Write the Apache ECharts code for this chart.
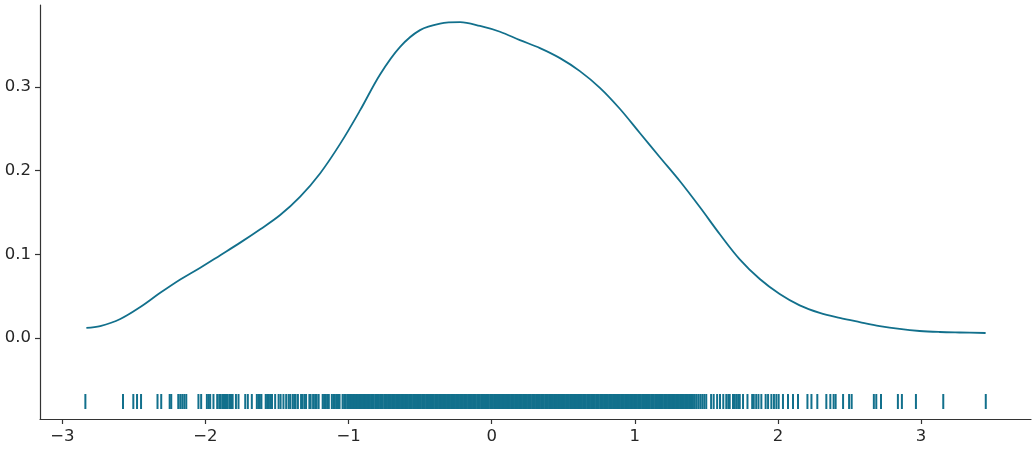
<!DOCTYPE html>
<html>
<head>
<meta charset="utf-8">
<script src="https://cdn.jsdelivr.net/npm/echarts@6/dist/echarts.min.js"></script>
<style>html,body{margin:0;padding:0;background:#fff}#c{width:1035px;height:450px}</style>
</head>
<body>
<div id="c"></div>
<script>
// KDE curve samples
var kdeX = [-2.832,-2.735,-2.595,-2.455,-2.316,-2.176,-2.036,-1.896,-1.757,-1.617,-1.478,-1.338,-1.198,-1.059,-0.920,-0.780,-0.640,-0.501,-0.361,-0.221,-0.082,0.058,0.197,0.337,0.477,0.616,0.756,0.895,1.035,1.175,1.314,1.454,1.594,1.733,1.873,2.012,2.152,2.292,2.431,2.571,2.711,2.850,2.990,3.130,3.269,3.451];
var kdeY = [0.012,0.0143,0.0227,0.037,0.054,0.070,0.084,0.099,0.114,0.130,0.147,0.169,0.197,0.232,0.272,0.315,0.348,0.368,0.3758,0.3775,0.373,0.366,0.356,0.3465,0.3345,0.319,0.299,0.274,0.245,0.216,0.1876,0.1565,0.124,0.094,0.0705,0.0526,0.039,0.030,0.024,0.019,0.0143,0.0108,0.0084,0.0072,0.0066,0.006];

// Rug observations
var rugX = [-2.839,-2.576,-2.504,-2.478,-2.450,-2.335,-2.309,-2.250,-2.239,-2.190,-2.176,-2.162,-2.148,-2.134,-2.049,-2.030,-1.990,
-1.977,-1.967,-1.944,-1.918,-1.904,-1.897,-1.883,-1.876,-1.869,-1.862,-1.855,-1.848,-1.834,-1.827,-1.820,-1.810,-1.787,-1.769,-1.722,-1.704,-1.676,
-1.641,-1.630,-1.620,-1.609,-1.579,-1.569,-1.558,-1.548,-1.535,-1.513,-1.489,-1.475,-1.455,-1.436,-1.419,-1.408,-1.391,-1.380,-1.370,-1.354,-1.332,-1.321,-1.307,-1.297,-1.274,-1.265,-1.248,-1.234,-1.223,-1.209,-1.181,-1.171,-1.161,-1.150,-1.138,-1.117,-1.106,-1.096,-1.085,-1.074,-1.063,-1.042,-1.031,-1.022,-1.010,-1.000,-0.990,-0.979,-0.969,-0.958,-0.948,-0.937,-0.927,
-0.916,-0.907,-0.899,-0.888,-0.879,-0.871,-0.862,-0.851,-0.842,-0.834,-0.825,-0.814,-0.806,-0.797,-0.788,-0.778,-0.769,-0.761,-0.750,-0.741,-0.733,-0.724,-0.714,-0.705,-0.696,-0.687,-0.677,-0.668,-0.660,-0.650,-0.641,-0.632,-0.623,-0.613,-0.604,-0.596,-0.586,-0.577,-0.568,-0.559,-0.549,-0.540,-0.532,-0.522,-0.513,-0.504,-0.495,-0.485,-0.476,-0.468,-0.458,-0.449,-0.440,-0.431,-0.421,-0.412,-0.404,-0.394,-0.385,-0.376,-0.367,-0.357,-0.348,-0.340,-0.330,-0.321,-0.312,-0.303,-0.293,-0.284,-0.276,-0.266,-0.257,-0.248,-0.239,-0.229,-0.220,-0.212,-0.202,-0.193,-0.184,-0.175,-0.165,-0.156,-0.148,-0.138,-0.129,-0.120,-0.111,-0.101,-0.092,-0.084,-0.074,-0.065,-0.056,-0.047,-0.037,-0.028,-0.020,-0.010,-0.001,
0.008,0.017,0.027,0.036,0.044,0.054,0.063,0.072,0.081,0.091,0.100,0.108,0.118,0.127,0.136,0.145,0.155,0.164,0.172,0.182,0.191,0.200,0.209,0.219,0.228,0.236,0.246,0.255,0.264,0.273,0.283,0.292,0.300,0.310,0.319,0.328,0.337,0.347,0.356,0.364,0.374,0.383,0.392,0.401,0.411,0.420,0.428,0.438,0.447,0.456,0.465,0.475,0.484,0.492,0.502,0.511,0.520,0.529,0.539,0.548,0.556,0.566,0.575,0.584,0.593,0.603,0.612,0.620,0.630,0.639,0.648,0.657,0.667,0.676,0.684,0.694,0.703,0.712,0.721,0.731,0.740,0.748,0.758,0.767,0.776,0.785,0.795,0.804,0.812,0.822,0.831,0.840,0.849,0.859,0.868,0.876,0.886,0.895,0.904,0.913,0.923,0.932,0.940,0.950,0.959,0.968,0.977,0.987,0.996,1.004,1.014,1.023,1.032,1.041,1.051,1.060,1.068,1.078,1.087,1.096,1.105,1.115,1.124,1.132,1.142,1.151,1.160,1.169,1.179,1.188,1.196,1.206,1.215,1.224,1.233,1.243,1.252,1.260,1.270,1.279,1.288,1.297,1.307,1.316,1.324,1.334,1.343,1.352,1.361,1.371,1.380,1.388,1.398,1.406,
1.417,1.429,1.443,1.457,1.471,1.485,1.499,1.533,1.551,1.575,1.595,1.618,1.639,1.653,1.663,1.686,1.698,1.710,1.722,1.733,1.756,1.787,1.820,1.831,1.848,
1.864,1.884,1.914,1.931,1.954,1.972,1.989,2.005,2.035,2.070,2.105,2.140,2.206,2.234,2.275,2.338,2.366,2.389,2.403,2.455,2.497,2.515,2.670,2.687,2.720,2.838,2.866,2.964,3.155,3.452];
var rugLevel = -0.0759;

var xTicks = [-3,-2,-1,0,1,2,3];
var yTicks = [0.0,0.1,0.2,0.3];

var color = '#12708c';
var txt = '#262626';
var font = 'DejaVu Sans';

var kdeData = kdeX.map(function(x,i){return [x,kdeY[i]];});
var rugData = rugX.map(function(x){return [x,rugLevel];});

var chart = echarts.init(document.getElementById('c'), null, {renderer:'canvas'});
chart.setOption({
  animation:false,
  backgroundColor:'#fff',
  grid:{left:40,right:4,top:5,bottom:31,containLabel:false},
  xAxis:{
    type:'value', min:-3.156, max:3.768,
    splitLine:{show:false},
    axisLine:{show:true,onZero:false,lineStyle:{color:'#333',width:1.2}},
    axisTick:{show:true,length:5,customValues:xTicks,lineStyle:{color:'#333',width:1.2}},
    axisLabel:{customValues:xTicks,margin:9,color:txt,fontFamily:font,fontSize:16.5,
      formatter:function(v){return v<0?'\u2212'+Math.abs(v):String(v);}}
  },
  yAxis:{
    type:'value', min:-0.0968, max:0.398,
    splitLine:{show:false},
    axisLine:{show:true,onZero:false,lineStyle:{color:'#333',width:1.2}},
    axisTick:{show:true,length:5,customValues:yTicks,lineStyle:{color:'#333',width:1.2}},
    axisLabel:{customValues:yTicks,margin:9,color:txt,fontFamily:font,fontSize:16.5,
      formatter:function(v){return v.toFixed(1);}}
  },
  series:[
    {type:'line',data:kdeData,smooth:0.35,showSymbol:false,symbol:'none',
     lineStyle:{color:color,width:1.8},silent:true},
    {type:'scatter',data:rugData,symbol:'rect',symbolSize:[2,15],
     itemStyle:{color:color,opacity:1},silent:true,large:false}
  ]
});
</script>
</body>
</html>
